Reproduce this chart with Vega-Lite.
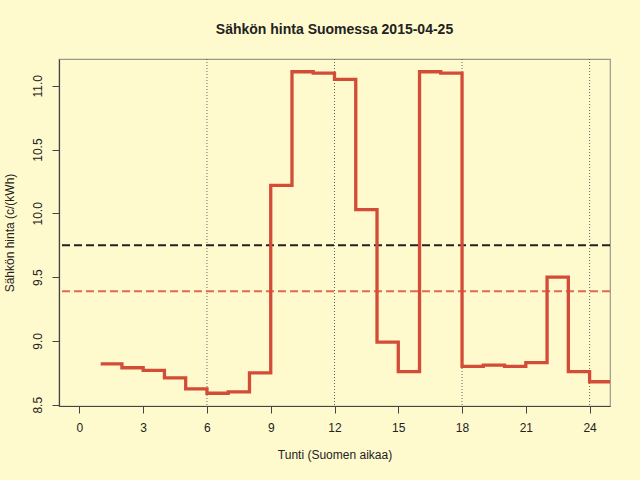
{
  "$schema": "https://vega.github.io/schema/vega-lite/v6.json",
  "width": 551,
  "height": 347,
  "autosize": {"type": "none"},
  "padding": {"left": 59, "top": 59, "right": 30, "bottom": 74},
  "background": "#FFFACD",
  "config": {
    "font": "Liberation Sans",
    "view": {"stroke": "#9a9a8a", "strokeWidth": 1.2},
    "axis": {
      "domainColor": "#444444",
      "domainWidth": 1.2,
      "tickColor": "#444444",
      "tickSize": 7,
      "labelFont": "Liberation Sans",
      "labelFontSize": 12,
      "labelColor": "#222222",
      "titleFont": "Liberation Sans",
      "titleFontSize": 12,
      "titleFontWeight": "normal",
      "titleColor": "#222222",
      "grid": false
    },
    "title": {"font": "Liberation Sans", "fontSize": 14, "fontWeight": "bold", "color": "#222222"}
  },
  "title": {"text": "Sähkön hinta Suomessa 2015-04-25", "anchor": "middle", "offset": 22},
  "datasets": {
    "prices": [
      {"tunti": 1, "hinta": 8.82},
      {"tunti": 2, "hinta": 8.79},
      {"tunti": 3, "hinta": 8.77},
      {"tunti": 4, "hinta": 8.71},
      {"tunti": 5, "hinta": 8.625},
      {"tunti": 6, "hinta": 8.59},
      {"tunti": 7, "hinta": 8.6},
      {"tunti": 8, "hinta": 8.75},
      {"tunti": 9, "hinta": 10.22},
      {"tunti": 10, "hinta": 11.11},
      {"tunti": 11, "hinta": 11.1},
      {"tunti": 12, "hinta": 11.05},
      {"tunti": 13, "hinta": 10.03},
      {"tunti": 14, "hinta": 8.99},
      {"tunti": 15, "hinta": 8.76},
      {"tunti": 16, "hinta": 11.11},
      {"tunti": 17, "hinta": 11.1},
      {"tunti": 18, "hinta": 8.8},
      {"tunti": 19, "hinta": 8.81},
      {"tunti": 20, "hinta": 8.8},
      {"tunti": 21, "hinta": 8.83},
      {"tunti": 22, "hinta": 9.5},
      {"tunti": 23, "hinta": 8.76},
      {"tunti": 24, "hinta": 8.68},
      {"tunti": 25, "hinta": 8.68}
    ],
    "vlines": [{"tunti": 6}, {"tunti": 12}, {"tunti": 18}, {"tunti": 24}],
    "hlines": [
      {"hinta": 9.75, "sarja": "keskiarvo"},
      {"hinta": 9.39, "sarja": "päivä"}
    ]
  },
  "layer": [
    {
      "data": {"name": "vlines"},
      "mark": {"type": "rule", "color": "#555555", "strokeWidth": 0.9, "strokeDash": [1, 2]},
      "encoding": {
        "x": {"field": "tunti", "type": "quantitative", "scale": {"domain": [-0.96, 24.96], "nice": false, "zero": false}}
      }
    },
    {
      "data": {"name": "hlines"},
      "mark": {"type": "rule", "strokeWidth": 2, "strokeDash": [8, 4]},
      "encoding": {
        "y": {"field": "hinta", "type": "quantitative"},
        "color": {
          "field": "sarja",
          "type": "nominal",
          "scale": {"domain": ["keskiarvo", "päivä"], "range": ["#222222", "#df6a52"]},
          "legend": null
        }
      }
    },
    {
      "data": {"name": "prices"},
      "mark": {"type": "line", "interpolate": "step-after", "color": "#d24c37", "strokeWidth": 3.3, "clip": true},
      "encoding": {
        "x": {
          "field": "tunti",
          "type": "quantitative",
          "scale": {"domain": [-0.96, 24.96], "nice": false, "zero": false},
          "axis": {
            "title": "Tunti (Suomen aikaa)",
            "values": [0, 3, 6, 9, 12, 15, 18, 21, 24],
            "labelPadding": 9,
            "titlePadding": 16
          }
        },
        "y": {
          "field": "hinta",
          "type": "quantitative",
          "scale": {"domain": [8.49, 11.21], "nice": false, "zero": false},
          "axis": {
            "title": "Sähkön hinta (c/(kWh)",
            "values": [8.5, 9, 9.5, 10, 10.5, 11],
            "format": ".1f",
            "labelAngle": 270,
            "labelAlign": "center",
            "labelBaseline": "bottom",
            "labelPadding": 8,
            "titlePadding": 15
          }
        }
      }
    }
  ]
}
